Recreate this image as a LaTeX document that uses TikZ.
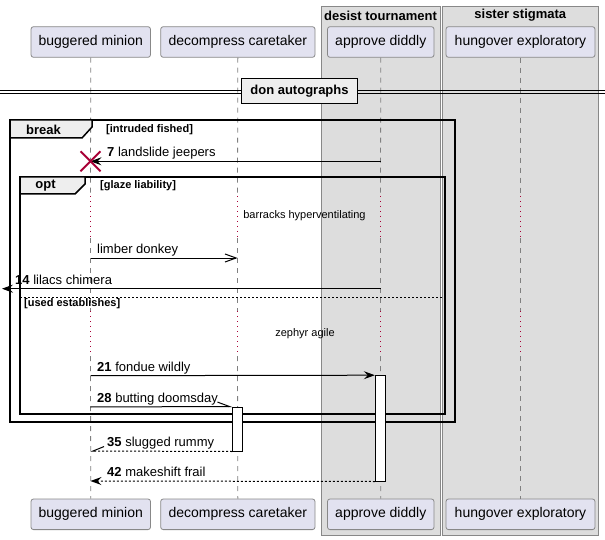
\documentclass[tikz,border=0pt]{standalone}
\usepackage{fontspec}
\setmainfont{Liberation Sans}
\usetikzlibrary{arrows.meta}
\definecolor{partfill}{HTML}{E2E2F0}
\definecolor{partline}{HTML}{888888}
\definecolor{grpfill}{HTML}{DDDDDD}
\definecolor{grpline}{HTML}{888888}
\definecolor{tabfill}{HTML}{EEEEEE}
\definecolor{crim}{HTML}{A80036}
\definecolor{lifegray}{HTML}{808080}
\begin{document}
\begin{tikzpicture}[x=1pt,y=-1pt,
  part/.style={draw=partline, fill=partfill, rounded corners=2.5pt, inner sep=0pt,
    minimum height=30.6pt, font=\fontsize{14pt}{16pt}\selectfont, line width=0.8pt},
  grp/.style={draw=grpline, fill=grpfill, line width=0.8pt},
  life/.style={draw=lifegray, dash pattern=on 5pt off 5pt, line width=0.8pt},
  delayline/.style={draw=crim, dash pattern=on 1pt off 4pt, line width=0.9pt},
  msg/.style={draw=black, line width=1pt},
  ret/.style={msg, dash pattern=on 2pt off 2pt},
  fullhead/.style={-{Stealth[length=11pt,width=8pt,inset=4pt]}},
  openhead/.style={-{Straight Barb[length=11pt,width=8pt,line width=1pt]}},
  halfup/.style={-{Straight Barb[left,length=12pt,width=9pt,line width=1pt]}},
  halfdownl/.style={-{Straight Barb[right,length=11pt,width=9pt,line width=1pt]}},
  lbl/.style={inner sep=0pt, anchor=base west, font=\fontsize{13pt}{15pt}\selectfont},
  dly/.style={inner sep=0pt, font=\fontsize{11pt}{13pt}\selectfont},
  cond/.style={inner sep=0pt, anchor=west, font=\bfseries\fontsize{11pt}{13pt}\selectfont},
  ttl/.style={inner sep=0pt, font=\bfseries\fontsize{13pt}{15pt}\selectfont},
  frm/.style={draw=black, line width=1.5pt},
  tabst/.style={draw=black, fill=tabfill, line width=1.5pt},
  act/.style={draw=black, fill=white, line width=1pt},
]
\useasboundingbox (0,0) rectangle (605,540);

% group boxes
\path[grp] (321,6) rectangle (440,535);
\path[grp] (442.3,6) rectangle (598.3,535);
\node[ttl] (g1) at (380.5,15.5) {desist tournament};
\node[ttl] (g2) at (520.3,15.5) {sister stigmata};

% participants
\node[part, minimum width=119.5pt] (pA) at (90.75,42) {buggered minion};
\node[part, minimum width=154.3pt] (pB) at (237.85,42) {decompress caretaker};
\node[part, minimum width=106.5pt] (pC) at (380.75,42) {approve diddly};
\node[part, minimum width=149pt] (pD) at (520.5,42) {hungover exploratory};
\node[part, minimum width=119.5pt] (bA) at (90.75,514.3) {buggered minion};
\node[part, minimum width=154.3pt] (bB) at (237.85,514.3) {decompress caretaker};
\node[part, minimum width=106.5pt] (bC) at (380.75,514.3) {approve diddly};
\node[part, minimum width=149pt] (bD) at (520.5,514.3) {hungover exploratory};

% lifelines with delay sections
\foreach \n/\x in {A/90.5,B/237.5,C/380.5,D/520.5}{
  \coordinate (d1s\n) at (\x,196);
  \coordinate (d1e\n) at (\x,238);
  \coordinate (d2s\n) at (\x,311);
  \coordinate (d2e\n) at (\x,356);
  \draw[life] (p\n.south) -- (d1s\n);
  \draw[delayline] (d1s\n) -- (d1e\n);
  \draw[life] (d1e\n) -- (d2s\n);
  \draw[delayline] (d2s\n) -- (d2e\n);
  \draw[life] (d2e\n) -- (b\n.north);
}

% divider
\coordinate (dvL1) at (0,90.3);
\coordinate (dvR1) at (605,90.3);
\coordinate (dvL2) at (0,93.7);
\coordinate (dvR2) at (605,93.7);
\draw[line width=1pt] (dvL1) -- (dvR1);
\draw[line width=1pt] (dvL2) -- (dvR2);
\node[draw=black, fill=tabfill, line width=1.6pt, minimum width=116pt, minimum height=25pt,
  inner sep=0pt, font=\bfseries\fontsize{13pt}{15pt}\selectfont] (dv) at (299.5,91) {don autographs};

% break frame
\draw[frm] (10,120) rectangle (455,422);
\draw[tabst] (10,120) -- (92,120) -- (92,127) -- (82,138) -- (10,138) -- cycle;
\node[ttl] (fb) at (43.5,130) {break};
\node[cond] (cb) at (106,130) {[intruded fished]};

% message 7
\coordinate (m7s) at (380.5,161.3);
\coordinate (m7e) at (90.5,161.3);
\draw[msg, fullhead] (m7s) -- (m7e);
\node[lbl] (l7) at (107,156.5) {\textbf{7} landslide jeepers};
\draw[crim, line width=2pt] (80.5,151.3) -- (100.5,171.3);
\draw[crim, line width=2pt] (80.5,171.3) -- (100.5,151.3);

% opt frame
\draw[frm] (20,177) rectangle (445,414);
\draw[tabst] (20,177) -- (85,177) -- (85,184) -- (75,194) -- (20,194) -- cycle;
\node[ttl] (fo) at (45.5,186) {opt};
\node[cond] (co) at (100,185.5) {[glaze liability]};

\node[dly] (dl1) at (304.5,216) {barracks hyperventilating};

% limber donkey
\coordinate (mLs) at (90.5,258);
\coordinate (mLe) at (237.5,258);
\draw[msg, openhead] (mLs) -- (mLe);
\node[lbl] (lL) at (97,253.5) {limber donkey};

% message 14
\coordinate (m14s) at (380.5,288.7);
\coordinate (m14e) at (2,288.7);
\draw[msg, fullhead] (m14s) -- (m14e);
\node[lbl] (l14) at (15,284) {\textbf{14} lilacs chimera};

% else
\coordinate (elL) at (20,297);
\coordinate (elR) at (445,297);
\draw[line width=1pt, dash pattern=on 2pt off 2pt] (elL) -- (elR);
\node[cond] (ce) at (24,303.5) {[used establishes]};

\node[dly] (dl2) at (305,334) {zephyr agile};

% activation boxes
\node[act, minimum width=10.4pt, minimum height=105.3pt, inner sep=0pt] (aC) at (380.5,428.35) {};
\node[act, minimum width=10pt, minimum height=44pt, inner sep=0pt] (aB) at (237.7,429) {};

% message 21
\coordinate (m21s) at (90.5,375.7);
\coordinate (m21e) at (aC.north west);
\draw[msg, fullhead] (m21s) -- (m21e);
\node[lbl] (l21) at (97,371.2) {\textbf{21} fondue wildly};

% message 28
\coordinate (m28s) at (90.5,407);
\coordinate (m28e) at (aB.north west);
\draw[msg, halfup] (m28s) -- (m28e);
\node[lbl] (l28) at (97,402.5) {\textbf{28} butting doomsday};

% message 35
\coordinate (m35s) at (aB.south west);
\coordinate (m35e) at (90.5,451);
\draw[ret, halfdownl] (m35s) -- (m35e);
\node[lbl] (l35) at (107,446.5) {\textbf{35} slugged rummy};

% message 42
\coordinate (m42s) at (aC.south west);
\coordinate (m42e) at (90.5,481);
\draw[ret, fullhead] (m42s) -- (m42e);
\node[lbl] (l42) at (107,476.5) {\textbf{42} makeshift frail};
\end{tikzpicture}
\end{document}
